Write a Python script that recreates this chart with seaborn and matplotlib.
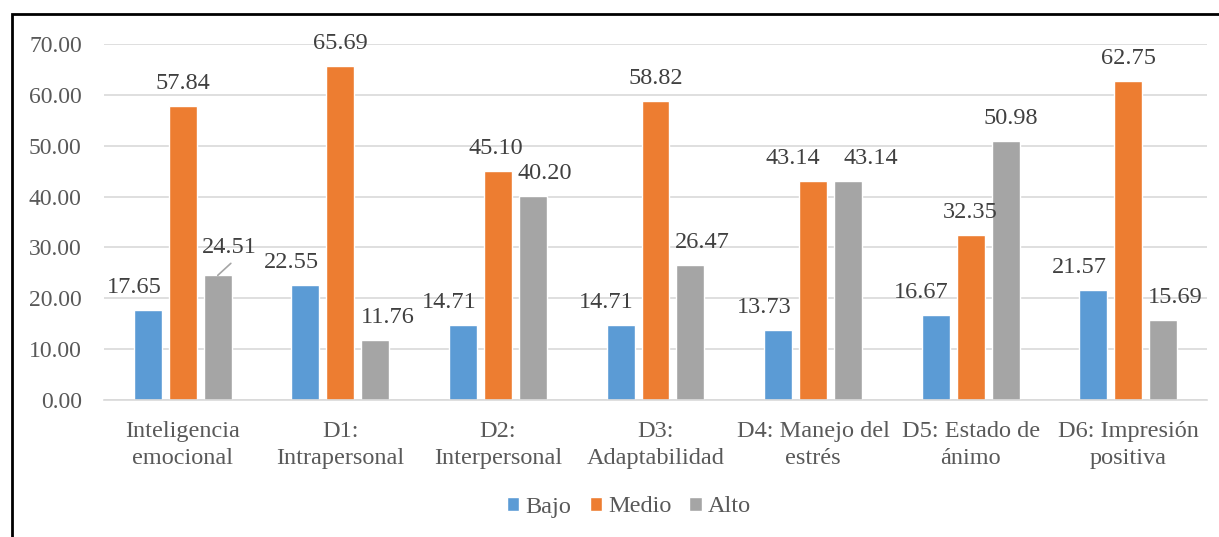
import matplotlib
matplotlib.use("Agg")
import matplotlib.pyplot as plt
from matplotlib.patches import Rectangle
import seaborn as sns
import pandas as pd

categorias = [
    "Inteligencia\nemocional",
    "D1:\nIntrapersonal",
    "D2:\nInterpersonal",
    "D3:\nAdaptabilidad",
    "D4: Manejo del\nestrés",
    "D5: Estado de\nánimo",
    "D6: Impresión\npositiva",
]
niveles = ["Bajo", "Medio", "Alto"]
bajo = [17.65, 22.55, 14.71, 14.71, 13.73, 16.67, 21.57]
medio = [57.84, 65.69, 45.10, 58.82, 43.14, 32.35, 62.75]
alto = [24.51, 11.76, 40.20, 26.47, 43.14, 50.98, 15.69]
colores = ["#5B9BD5", "#ED7D31", "#A5A5A5"]
y_ticks = [0, 10, 20, 30, 40, 50, 60, 70]

df = pd.DataFrame({
    "categoria": categorias * 3,
    "nivel": [n for n in niveles for _ in categorias],
    "valor": bajo + medio + alto,
})

sns.set_theme(style="white")
plt.rcParams["font.family"] = ["Liberation Serif", "DejaVu Serif"]

W, H = 1219, 537
fig = plt.figure(figsize=(W / 100, H / 100), dpi=100)
ax = fig.add_axes([104 / W, 1 - 400 / H, (1207 - 104) / W, (400 - 44) / H])

sns.barplot(data=df, x="categoria", y="valor", hue="nivel", hue_order=niveles,
            palette=colores, width=0.666, gap=0.2, saturation=1,
            errorbar=None, ax=ax, legend=True)

ax.set_ylim(0, 70)
ax.set_yticks(y_ticks)
ax.set_yticklabels([f"{v:.2f}" for v in y_ticks])
ax.set_xlim(-0.5, len(categorias) - 0.5)
ax.set_xlabel("")
ax.set_ylabel("")
ax.yaxis.grid(True, color="#D9D9D9", linewidth=1.2)
ax.set_axisbelow(True)
for s in ["top", "right", "left"]:
    ax.spines[s].set_visible(False)
ax.spines["bottom"].set_color("#D9D9D9")
ax.spines["bottom"].set_linewidth(1.2)
ax.tick_params(axis="y", length=0, pad=16, labelsize=17, labelcolor="#595959")
ax.tick_params(axis="x", length=0, pad=15, labelsize=17.5, labelcolor="#595959")
for lbl in ax.get_xticklabels():
    lbl.set_linespacing(1.4)

# horizontal nudge (pixels) of the value labels per series, with a few
# individual shifts where neighbouring labels would collide
nudge = [-14, 0, 12]
nudge_extra = {(1, 2): -2, (1, 4): -20, (2, 4): 23, (2, 5): 5}
px = 0.72  # points per pixel at 100 dpi

for i, cont in enumerate(ax.containers):
    for j, bar in enumerate(cont):
        h = bar.get_height()
        xc = bar.get_x() + bar.get_width() / 2
        dx = nudge_extra.get((i, j), nudge[i])
        dy = 17
        if i == 2 and j == 0:
            # raised label joined to its bar by a short leader line
            dy = 22
            ax.annotate("", (xc, h), xytext=(xc + 0.083, h + 2.36),
                        arrowprops=dict(arrowstyle="-", color="#A5A5A5", lw=1.2,
                                        shrinkA=0, shrinkB=0))
        ax.annotate(f"{h:.2f}", (xc, h), xytext=(dx * px, dy * px),
                    textcoords="offset points", ha="center", va="baseline",
                    fontsize=17.5, color="#404040")

handles, labels = ax.get_legend_handles_labels()
ax.legend_.remove()
fig.legend(handles, labels, loc="center", bbox_to_anchor=(629 / W, 1 - 507 / H),
           ncol=3, frameon=False, fontsize=17.5, labelcolor="#595959",
           handlelength=0.5, handleheight=0.5, handletextpad=0.25,
           columnspacing=0.75)

# outer chart frame (right and bottom edges fall outside the canvas)
fig.patches.append(Rectangle((12 / W, -0.1), 1.2, 1 - 14 / H + 0.1,
                             transform=fig.transFigure, fill=False,
                             edgecolor="black", linewidth=2))

fig.savefig("out.png", dpi=100)
